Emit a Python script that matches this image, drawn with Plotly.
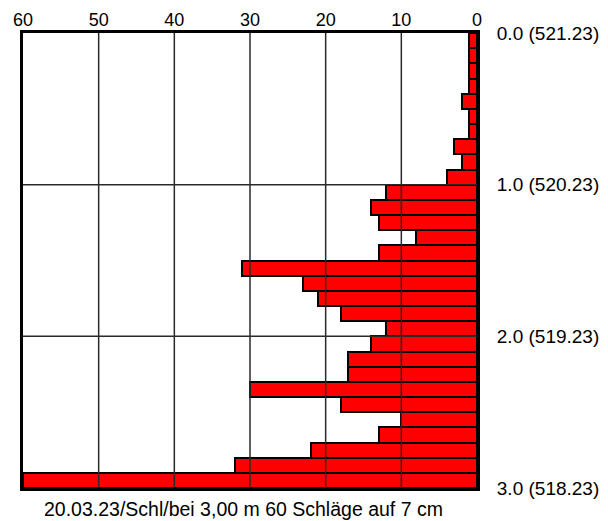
import plotly.graph_objects as go

# Depth intervals (m), top of each 10 cm interval
depth_top = [round(i * 0.1, 1) for i in range(30)]
# Blow counts per 10 cm
blows = [1, 1, 1, 1, 2, 1, 1, 3, 2, 4,
         12, 14, 13, 8, 13, 31, 23, 21, 18, 12,
         14, 17, 17, 30, 18, 10, 13, 22, 32, 60]

x_ticks = [0, 10, 20, 30, 40, 50, 60]
y_ticks = [0, 1, 2, 3]
y_ticktext = ["0.0 (521.23)", "1.0 (520.23)", "2.0 (519.23)", "3.0 (518.23)"]
caption = "20.03.23/Schl/bei 3,00 m 60 Schläge auf 7 cm"

font_family = "Liberation Sans, Arial, sans-serif"

fig = go.Figure()
fig.add_trace(go.Bar(
    x=blows,
    y=[d + 0.05 for d in depth_top],
    width=0.1,
    orientation="h",
    marker=dict(color="#ff0000", line=dict(color="black", width=2)),
    showlegend=False,
    hoverinfo="skip",
))

# Grid lines drawn above bars (as in the reference)
for v in x_ticks[1:-1]:
    fig.add_shape(type="line", xref="x", yref="y", x0=v, x1=v, y0=0, y1=3,
                  line=dict(color="#2a2a2a", width=1.5), layer="above")
for v in y_ticks[1:-1]:
    fig.add_shape(type="line", xref="x", yref="y", x0=0, x1=60, y0=v, y1=v,
                  line=dict(color="#2a2a2a", width=1.5), layer="above")

# page body has an 8px default margin, so the figure is 8px smaller
fig.update_layout(
    width=600, height=513,
    margin=dict(l=15, r=131, t=25, b=33),
    paper_bgcolor="white", plot_bgcolor="white",
    font=dict(family=font_family, size=18, color="black"),
    bargap=0,
    xaxis=dict(
        range=[60, 0], side="top", tickvals=x_ticks, ticktext=[str(v) for v in x_ticks],
        showgrid=False, zeroline=False, showline=True, mirror=True, automargin=False,
        linecolor="black", linewidth=3, ticks="", layer="above traces",
        tickfont=dict(size=18), ticklabelstandoff=-3,
    ),
    yaxis=dict(
        range=[3, 0], side="right", tickvals=y_ticks, ticktext=y_ticktext,
        showgrid=False, zeroline=False, showline=True, mirror=True, automargin=False,
        linecolor="black", linewidth=3, ticks="", layer="above traces",
        tickfont=dict(size=19), ticklabelstandoff=13,
    ),
    annotations=[dict(
        text=caption, xref="paper", yref="paper", x=0.4857, y=0,
        xanchor="center", yanchor="top", yshift=-8, showarrow=False,
        font=dict(size=19.5),
    )],
)

fig.write_html("out.html")
